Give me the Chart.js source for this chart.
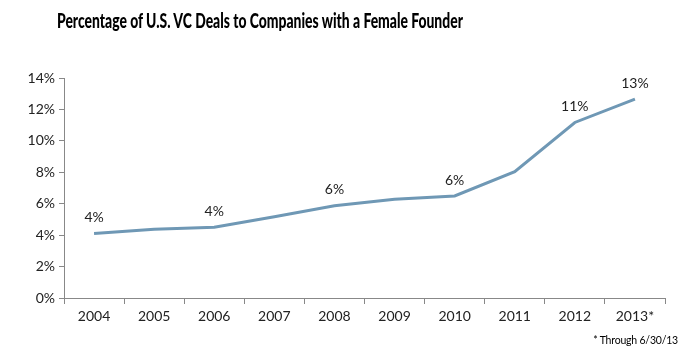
<!DOCTYPE html>
<html>
<head>
<meta charset="utf-8">
<script src="https://cdn.jsdelivr.net/npm/chart.js@4/dist/chart.umd.min.js"></script>
<style>
    html, body { margin: 0; padding: 0; background: #fff; }
    #wrap { position: relative; width: 687px; height: 353px; }
    #title {
        position: absolute; left: 57px; top: 8px; white-space: nowrap;
        transform-origin: 0 0;
        font-family: Lato, "Open Sans", sans-serif; font-weight: 900; font-size: 20px; color: #000;
    }
    #note {
        position: absolute; right: 9px; top: 334px;
        font-family: Lato, "Open Sans", sans-serif; font-size: 10.5px; color: #000;
        letter-spacing: -0.2px;
    }
</style>
</head>
<body>
<div id="wrap">
    <div id="title">Percentage of U.S. VC Deals to Companies with a Female Founder</div>
    <canvas id="femaleChart" width="687" height="353"></canvas>
    <div id="note">* Through 6/30/13</div>
</div>
<script>
// chart data
const years = ['2004', '2005', '2006', '2007', '2008', '2009', '2010', '2011', '2012', '2013*'];
const femaleShare = [4.1, 4.37, 4.5, 5.17, 5.87, 6.28, 6.49, 8.04, 11.17, 12.66];
const pointLabels = ['4%', '', '4%', '', '6%', '', '6%', '', '11%', '13%'];
const yTicks = [0, 2, 4, 6, 8, 10, 12, 14];

const fontFamily = 'Lato, "Open Sans", sans-serif';

// squeeze the title to the condensed width of the original
const title = document.getElementById('title');
title.style.transform = 'scaleX(' + (406 / title.offsetWidth) + ')';

// draw the value labels above some points
const valueLabels = {
    id: 'valueLabels',
    afterDatasetsDraw(chart) {
        const ctx = chart.ctx;
        const meta = chart.getDatasetMeta(0);
        ctx.save();
        ctx.font = '14px ' + fontFamily;
        ctx.fillStyle = '#222';
        ctx.textAlign = 'center';
        ctx.textBaseline = 'middle';
        meta.data.forEach((pt, i) => {
            if (pointLabels[i]) {
                ctx.fillText(pointLabels[i], pt.x, pt.y - 16);
            }
        });
        ctx.restore();
    }
};

new Chart(document.getElementById('femaleChart'), {
    type: 'line',
    data: {
        labels: years,
        datasets: [{
            data: femaleShare,
            borderColor: '#6f98b5',
            borderWidth: 3,
            pointRadius: 0,
            tension: 0,
            fill: false
        }]
    },
    options: {
        responsive: false,
        animation: false,
        layout: { padding: { top: 78, right: 22, left: 0, bottom: 0 } },
        plugins: {
            legend: { display: false },
            tooltip: { enabled: false }
        },
        scales: {
            x: {
                offset: true,
                grid: {
                    offset: true,
                    drawOnChartArea: false,
                    color: '#888',
                    tickLength: 6
                },
                border: { color: '#888', width: 1 },
                ticks: {
                    color: '#222',
                    font: { family: fontFamily, size: 14 },
                    padding: 4,
                    maxRotation: 0
                },
                afterFit(scale) { scale.height = 55; }
            },
            y: {
                min: 0,
                max: 14,
                afterBuildTicks(scale) {
                    scale.ticks = yTicks.map(v => ({ value: v }));
                },
                grid: {
                    drawOnChartArea: false,
                    color: '#888',
                    tickLength: 5
                },
                border: { color: '#888', width: 1 },
                ticks: {
                    color: '#222',
                    font: { family: fontFamily, size: 14 },
                    padding: 4,
                    callback: v => v + '%'
                },
                afterFit(scale) { scale.width = 64; }
            }
        }
    },
    plugins: [valueLabels]
});
</script>
</body>
</html>
